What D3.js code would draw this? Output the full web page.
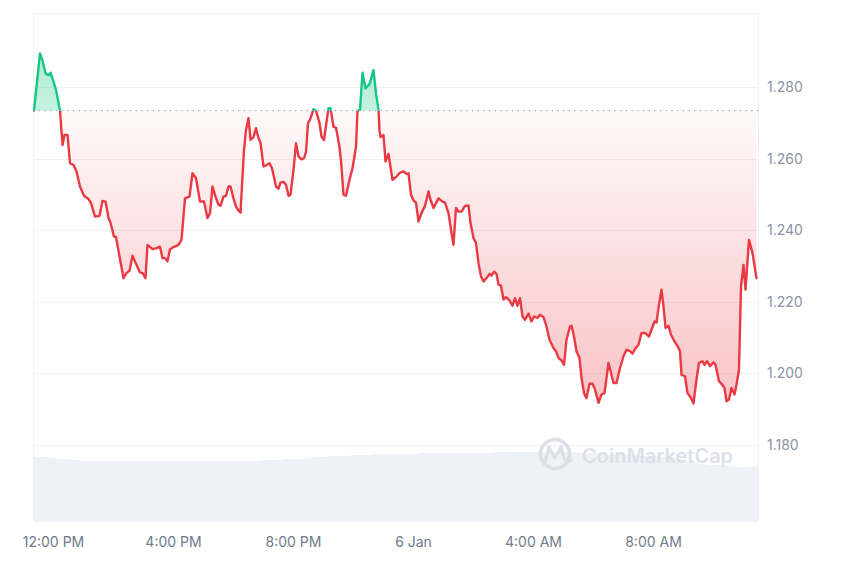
<!DOCTYPE html>
<html>
<head>
<meta charset="utf-8">
<script src="https://cdn.jsdelivr.net/npm/d3@7"></script>
<style>
  html, body { margin: 0; padding: 0; background: #ffffff; }
  svg { display: block; }
  text { font-family: Inter, "Noto Sans", sans-serif; }
</style>
</head>
<body>
<svg id="chart" width="850" height="567"></svg>
<script>
// ---- data ----
const startTime = new Date(2025, 0, 5, 11, 20); // 5 Jan, 11:20 AM
const spanMinutes = 1450;
// minutes elapsed since startTime for each price sample
const minutes = [2,14,19,25,31,35,41,46,54,59,63,69,74,81,87,94,102,111,116,124,133,139,145,151,155,162,166,173,181,187,193,199,206,214,219,225,229,239,247,254,259,264,269,274,281,291,297,304,313,319,326,334,342,349,354,359,365,371,375,381,386,391,395,401,406,411,415,422,426,431,435,441,446,451,455,461,467,473,478,482,486,491,495,501,506,511,515,521,526,531,537,542,546,550,554,561,566,573,577,582,591,595,601,606,613,617,621,626,633,639,646,649,654,659,665,673,681,686,691,693,695,701,705,711,719,726,734,741,747,751,756,761,766,771,777,784,791,795,801,811,819,824,831,837,841,846,851,857,864,871,875,881,886,891,896,901,907,913,917,922,927,931,936,941,946,953,959,964,969,974,979,984,991,997,1002,1009,1014,1021,1027,1033,1041,1046,1051,1057,1062,1067,1074,1077,1082,1087,1093,1097,1102,1107,1113,1119,1124,1131,1137,1143,1151,1161,1167,1174,1181,1187,1194,1199,1204,1211,1217,1224,1232,1237,1243,1247,1252,1257,1261,1265,1271,1276,1283,1289,1294,1297,1304,1309,1316,1321,1327,1332,1339,1343,1348,1354,1361,1365,1372,1377,1383,1387,1392,1397,1403,1407,1412,1416,1421,1425,1432,1439,1447];
const prices = [1.2734,1.2894,1.2875,1.2838,1.2833,1.2840,1.2815,1.2792,1.2734,1.2638,1.2666,1.2666,1.2587,1.2582,1.2564,1.2522,1.2496,1.2487,1.2476,1.2438,1.2440,1.2482,1.2480,1.2434,1.2421,1.2382,1.2381,1.2327,1.2266,1.2280,1.2287,1.2329,1.2306,1.2282,1.2280,1.2266,1.2359,1.2347,1.2350,1.2354,1.2322,1.2322,1.2313,1.2347,1.2353,1.2359,1.2373,1.2489,1.2494,1.2559,1.2545,1.2480,1.2480,1.2434,1.2448,1.2522,1.2494,1.2471,1.2468,1.2494,1.2496,1.2522,1.2522,1.2489,1.2466,1.2455,1.2449,1.2624,1.2680,1.2713,1.2652,1.2660,1.2685,1.2657,1.2645,1.2578,1.2582,1.2587,1.2573,1.2548,1.2522,1.2516,1.2533,1.2535,1.2527,1.2496,1.2499,1.2568,1.2643,1.2606,1.2598,1.2601,1.2619,1.2699,1.2708,1.2738,1.2734,1.2699,1.2661,1.2652,1.2741,1.2741,1.2689,1.2686,1.2633,1.2578,1.2499,1.2496,1.2541,1.2573,1.2633,1.2734,1.2736,1.2840,1.2796,1.2808,1.2847,1.2782,1.2736,1.2678,1.2660,1.2666,1.2592,1.2613,1.2541,1.2548,1.2561,1.2564,1.2557,1.2559,1.2499,1.2483,1.2477,1.2424,1.2448,1.2468,1.2508,1.2485,1.2462,1.2489,1.2480,1.2477,1.2448,1.2392,1.2359,1.2462,1.2452,1.2452,1.2468,1.2469,1.2420,1.2378,1.2364,1.2308,1.2271,1.2257,1.2266,1.2278,1.2273,1.2284,1.2278,1.2248,1.2245,1.2206,1.2213,1.2204,1.2189,1.2210,1.2189,1.2210,1.2159,1.2150,1.2167,1.2145,1.2159,1.2155,1.2164,1.2157,1.2131,1.2094,1.2071,1.2062,1.2043,1.2036,1.2024,1.2094,1.2131,1.2133,1.2103,1.2062,1.2043,1.1987,1.1945,1.1931,1.1971,1.1971,1.1955,1.1918,1.1941,1.1945,1.2029,1.1973,1.1973,1.2015,1.2048,1.2066,1.2062,1.2055,1.2068,1.2080,1.2113,1.2113,1.2103,1.2122,1.2145,1.2142,1.2192,1.2234,1.2187,1.2127,1.2133,1.2108,1.2089,1.2077,1.2062,1.1996,1.1992,1.1945,1.1931,1.1916,1.1983,1.2029,1.2034,1.2024,1.2034,1.2020,1.2031,1.2024,1.1978,1.1971,1.1959,1.1922,1.1927,1.1959,1.1941,1.1969,1.2010,1.2243,1.2303,1.2234,1.2373,1.2336,1.2266];
// trading volume (relative units), 15-minute buckets
const volumes = [65,65,64,63,63,62,61,61,61,61,61,61,61,61,61,61,61,61,61,61,61,61,61,61,61,61,61,61,61,61,62,62,62,63,63,63,64,65,65,66,66,66,67,67,67,68,68,68,68,68,68,69,69,69,69,69,69,69,69,69,69,70,70,70,70,70,70,70,70,70,70,70,69,69,69,69,68,68,67,67,66,66,66,65,64,63,61,60,58,57,57,56,56,55,55,56];
const yTicks = [1.18, 1.20, 1.22, 1.24, 1.26, 1.28];
const xTickTimes = [new Date(2025,0,5,12,0), new Date(2025,0,5,16,0), new Date(2025,0,5,20,0), new Date(2025,0,6,0,0), new Date(2025,0,6,4,0), new Date(2025,0,6,8,0)];
const xTickLabels = ["12:00 PM", "4:00 PM", "8:00 PM", "6 Jan", "4:00 AM", "8:00 AM"];

// ---- layout ----
const plotL = 33, plotR = 758, plotT = 13, plotB = 522;
const RED = "#ea3943", GREEN = "#16c784";

const n = Math.min(minutes.length, prices.length);
const data = d3.range(n).map(i => ({ t: new Date(startTime.getTime() + minutes[i] * 60000), v: prices[i] }));
const base = prices[0];

const x = d3.scaleTime()
  .domain([startTime, new Date(startTime.getTime() + spanMinutes * 60000)])
  .range([plotL, plotR]);
const y = d3.scaleLinear().domain([1.18, 1.28]).range([445, 87]);
const yb = y(base);

const svg = d3.select("#chart");
const defs = svg.append("defs");

defs.append("clipPath").attr("id", "clipAbove")
  .append("rect").attr("x", 0).attr("y", 0).attr("width", 850).attr("height", yb);
defs.append("clipPath").attr("id", "clipBelow")
  .append("rect").attr("x", 0).attr("y", yb).attr("width", 850).attr("height", 567 - yb);

const redGrad = defs.append("linearGradient").attr("id", "redGrad")
  .attr("gradientUnits", "userSpaceOnUse")
  .attr("x1", 0).attr("x2", 0).attr("y1", yb).attr("y2", y(d3.min(prices)));
redGrad.append("stop").attr("offset", 0).attr("stop-color", RED).attr("stop-opacity", 0.03);
redGrad.append("stop").attr("offset", 1).attr("stop-color", RED).attr("stop-opacity", 0.3);

const greenGrad = defs.append("linearGradient").attr("id", "greenGrad")
  .attr("gradientUnits", "userSpaceOnUse")
  .attr("x1", 0).attr("x2", 0).attr("y1", y(d3.max(prices))).attr("y2", yb);
greenGrad.append("stop").attr("offset", 0).attr("stop-color", GREEN).attr("stop-opacity", 0.35);
greenGrad.append("stop").attr("offset", 1).attr("stop-color", GREEN).attr("stop-opacity", 0.25);

// ---- frame & grid ----
const grid = svg.append("g");
grid.selectAll("line.h").data(yTicks).join("line")
  .attr("x1", plotL).attr("x2", plotR)
  .attr("y1", d => Math.round(y(d)) + 0.5).attr("y2", d => Math.round(y(d)) + 0.5)
  .attr("stroke", "#eff1f4").attr("stroke-width", 1);
grid.append("line").attr("x1", plotL).attr("x2", plotR).attr("y1", plotT + 0.5).attr("y2", plotT + 0.5)
  .attr("stroke", "#eff1f4");
grid.append("line").attr("x1", plotL + 0.5).attr("x2", plotL + 0.5).attr("y1", plotT).attr("y2", plotB)
  .attr("stroke", "#eff1f4");
grid.append("line").attr("x1", plotR + 0.5).attr("x2", plotR + 0.5).attr("y1", plotT).attr("y2", plotB)
  .attr("stroke", "#eff1f4");

// ---- volume ----
const xv = d3.scaleBand().domain(d3.range(volumes.length)).range([plotL + 1, plotR]).paddingInner(0);
const yv = d3.scaleLinear().domain([0, 70]).range([plotB, plotB - 70]);
svg.append("g").selectAll("rect").data(volumes).join("rect")
  .attr("x", (d, i) => xv(i)).attr("width", xv.bandwidth() + 0.3)
  .attr("y", d => yv(d)).attr("height", d => plotB - yv(d))
  .attr("fill", "#eef1f5");

// ---- watermark ----
const wm = svg.append("g").attr("opacity", 0.9);
wm.append("circle").attr("cx", 555).attr("cy", 454).attr("r", 14.5)
  .attr("fill", "none").attr("stroke", "#d9dee7").attr("stroke-width", 3.5);
wm.append("path")
  .attr("d", "M545,462 L549,447 L555,458 L561,447 L564,458 Q566,463 571,460")
  .attr("fill", "none").attr("stroke", "#d9dee7").attr("stroke-width", 3.2)
  .attr("stroke-linejoin", "round").attr("stroke-linecap", "round");
wm.append("text").attr("x", 582).attr("y", 462.5)
  .attr("font-size", 20).attr("font-weight", 600).attr("fill", "#d9dee7")
  .text("CoinMarketCap");

// ---- areas & lines ----
const area = d3.area().x(d => x(d.t)).y0(yb).y1(d => y(d.v));
const line = d3.line().x(d => x(d.t)).y(d => y(d.v));

svg.append("path").datum(data).attr("d", area)
  .attr("fill", "url(#redGrad)").attr("clip-path", "url(#clipBelow)");
svg.append("path").datum(data).attr("d", area)
  .attr("fill", "url(#greenGrad)").attr("clip-path", "url(#clipAbove)");

// baseline (opening price)
svg.append("line").attr("x1", plotL).attr("x2", plotR).attr("y1", yb).attr("y2", yb)
  .attr("stroke", "#9aa2b1").attr("stroke-width", 1.2).attr("stroke-dasharray", "1.2,4.5");

svg.append("path").datum(data).attr("d", line)
  .attr("fill", "none").attr("stroke", RED).attr("stroke-width", 2.4)
  .attr("stroke-linejoin", "round").attr("stroke-linecap", "round")
  .attr("clip-path", "url(#clipBelow)");
svg.append("path").datum(data).attr("d", line)
  .attr("fill", "none").attr("stroke", GREEN).attr("stroke-width", 2.4)
  .attr("stroke-linejoin", "round").attr("stroke-linecap", "round")
  .attr("clip-path", "url(#clipAbove)");

// ---- axes ----
const yAxis = d3.axisRight(y).tickValues(yTicks).tickFormat(d3.format(".3f")).tickSize(0).tickPadding(0);
const gy = svg.append("g").attr("transform", `translate(${plotR + 9},0)`).call(yAxis);
gy.select(".domain").remove();
gy.selectAll("text").attr("font-size", 14).attr("fill", "#8a93a5").attr("font-family", "Inter, sans-serif");

const xAxis = d3.axisBottom(x).tickValues(xTickTimes)
  .tickFormat((d, i) => xTickLabels[i]).tickSize(0).tickPadding(0);
const gx = svg.append("g").attr("transform", `translate(0,537)`).call(xAxis);
gx.select(".domain").remove();
gx.selectAll("text").attr("font-size", 14).attr("fill", "#6f7a8c").attr("font-family", "Inter, sans-serif");
</script>
</body>
</html>
